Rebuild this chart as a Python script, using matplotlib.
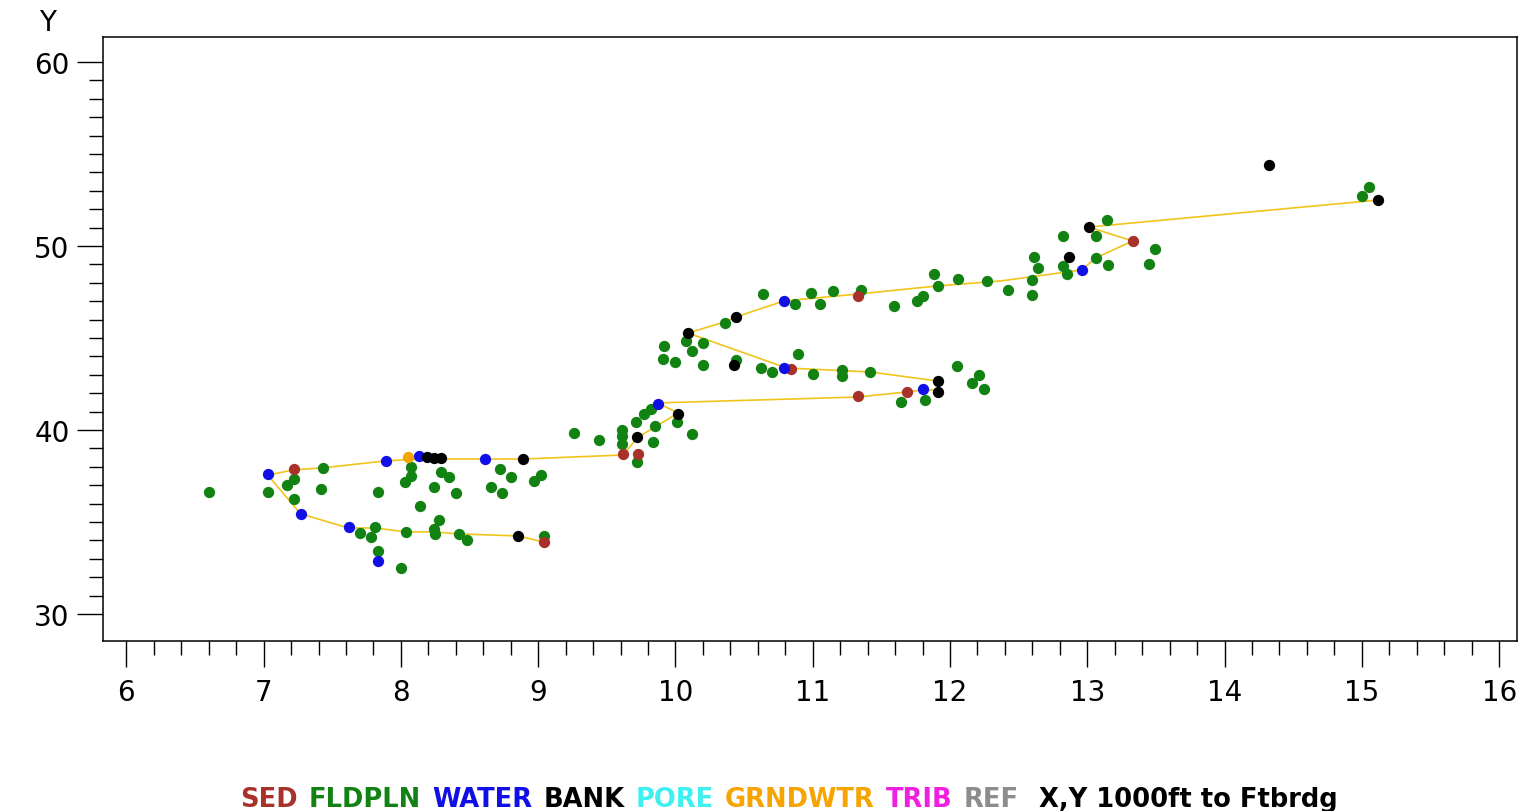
import numpy as np
import matplotlib
matplotlib.use("Agg")
import matplotlib.pyplot as plt
from matplotlib.ticker import FixedLocator

plt.rcParams['font.family'] = ['DejaVu Sans']

# sample locations, X,Y in 1000 ft to Ftbrdg
sed_x = [7.22, 9.04, 9.62, 9.73, 10.84, 11.33, 11.33, 11.69, 13.33]
sed_y = [37.88, 33.91, 38.70, 38.70, 43.32, 47.28, 41.85, 42.07, 50.27]

fldpln_x = [6.60, 7.03, 7.17, 7.22, 7.22, 7.42, 7.43, 7.70, 7.81, 7.78, 7.83, 7.83, 8.00,
            8.03, 8.07, 8.07, 8.14, 8.24, 8.29, 8.35, 8.28, 8.04, 8.24, 8.25, 8.42, 8.48,
            8.40, 8.66, 8.72, 8.74, 8.80, 8.97, 9.02, 9.04, 9.26, 9.44, 9.61, 9.61, 9.61,
            9.72, 9.71, 9.77, 9.82, 9.85, 9.84, 10.01, 10.12, 9.91, 9.92, 10.00, 10.08,
            10.12, 10.20, 10.20, 10.36, 10.44, 10.62, 10.64, 10.70, 10.89, 10.87, 10.99,
            11.00, 11.05, 11.15, 11.21, 11.21, 11.35, 11.42, 11.59, 11.64, 11.76, 11.80,
            11.82, 11.88, 11.91, 12.06, 12.05, 12.21, 12.16, 12.25, 12.27, 12.42, 12.60,
            12.60, 12.61, 12.64, 12.82, 12.85, 12.82, 13.06, 13.14, 13.06, 13.15, 13.45,
            13.49, 15.00, 15.05]
fldpln_y = [36.63, 36.63, 37.01, 37.34, 36.25, 36.79, 37.94, 34.40, 34.73, 34.18, 33.42, 36.63, 32.50,
            37.17, 37.99, 37.50, 35.87, 36.90, 37.72, 37.45, 35.11, 34.46, 34.62, 34.35, 34.35, 34.02,
            36.58, 36.90, 37.88, 36.58, 37.45, 37.23, 37.55, 34.24, 39.84, 39.46, 40.00, 39.67, 39.24,
            38.26, 40.44, 40.87, 41.14, 40.22, 39.35, 40.44, 39.78, 43.86, 44.57, 43.70, 44.84,
            44.29, 44.73, 43.53, 45.82, 43.80, 43.37, 47.39, 43.15, 44.13, 46.85, 47.45,
            43.04, 46.85, 47.56, 43.26, 42.94, 47.61, 43.15, 46.74, 41.52, 47.01, 47.28,
            41.63, 48.48, 47.83, 48.21, 43.48, 42.99, 42.55, 42.23, 48.10, 47.61, 48.15,
            47.34, 49.40, 48.81, 48.91, 48.48, 50.54, 50.54, 51.41, 49.35, 48.97, 49.02,
            49.84, 52.72, 53.21]

water_x = [7.03, 7.27, 7.62, 7.83, 7.89, 8.13, 8.61, 9.87, 10.79, 10.79, 11.80, 12.96]
water_y = [37.61, 35.44, 34.73, 32.88, 38.32, 38.59, 38.42, 41.41, 47.01, 43.37, 42.23, 48.70]

bank_x = [8.19, 8.24, 8.29, 8.89, 8.85, 9.72, 10.02, 10.09, 10.44, 10.43, 11.91, 11.91,
          12.87, 13.01, 14.32, 15.12]
bank_y = [38.53, 38.48, 38.48, 38.42, 34.24, 39.62, 40.87, 45.27, 46.14, 43.53, 42.66, 42.07,
          49.40, 51.03, 54.40, 52.50]

grndwtr_x = [8.05]
grndwtr_y = [38.53]

# sampling route
route_x = [15.12, 13.01, 13.33, 13.06, 12.96, 12.37, 11.91, 11.33, 10.79, 10.44, 10.36, 10.09,
           10.81, 11.42, 11.91, 11.91, 11.80, 11.69, 11.33, 9.87, 10.02, 9.85, 9.72, 9.62,
           8.89, 8.61, 8.14, 7.89, 7.43, 7.22, 7.03, 7.27, 7.62, 7.81, 8.04, 8.24, 8.42,
           8.85, 9.04]
route_y = [52.50, 51.03, 50.27, 49.35, 48.70, 48.10, 47.83, 47.39, 47.01, 46.14, 45.87, 45.27,
           43.37, 43.15, 42.66, 42.17, 42.17, 42.07, 41.79, 41.47, 40.92, 40.16, 39.57, 38.64,
           38.42, 38.42, 38.42, 38.32, 37.94, 37.83, 37.55, 35.44, 34.67, 34.67, 34.46, 34.46,
           34.35, 34.24, 33.91]

legend_words = ['SED', 'FLDPLN', 'WATER', 'BANK', 'PORE', 'GRNDWTR', 'TRIB', 'REF',
                ' X,Y 1000ft to Ftbrdg']
legend_colors = ['#a8322a', '#128212', '#1010e6', 'black', '#40f0f0', '#f5a400',
                 '#f020e0', '#8c8c8c', 'black']

fig = plt.figure(figsize=(15.28, 8.12), dpi=100)
ax = fig.add_axes([0.0674, 0.2094, 0.9254, 0.7438])

ax.plot(route_x, route_y, color='#f0c419', lw=1.2, zorder=2)
ms = 66
ax.scatter(fldpln_x, fldpln_y, s=ms, color='#128212', zorder=3, linewidths=0)
ax.scatter(sed_x, sed_y, s=ms, color='#a8322a', zorder=3, linewidths=0)
ax.scatter(water_x, water_y, s=ms, color='#1010e6', zorder=3, linewidths=0)
ax.scatter(bank_x, bank_y, s=ms, color='black', zorder=3, linewidths=0)
ax.scatter(grndwtr_x, grndwtr_y, s=ms, color='#f5a400', zorder=3, linewidths=0)

ax.set_xlim(5.83, 16.13)
ax.set_ylim(28.53, 61.36)
ax.set_xticks(range(6, 17))
ax.set_yticks([30, 40, 50, 60])
ax.xaxis.set_minor_locator(FixedLocator(np.arange(6, 16.01, 0.2)))
ax.yaxis.set_minor_locator(FixedLocator(np.arange(30, 60.5, 1)))
ax.tick_params(which='major', direction='out', length=19, width=1, labelsize=20, pad=8)
ax.tick_params(which='minor', direction='out', length=10, width=1)
ax.tick_params(axis='y', which='major', pad=5)
for s in ax.spines.values():
    s.set_linewidth(1.1)

fig.text(0.031, 0.972, 'Y', fontsize=20, ha='center', va='center')

# coloured legend line under the chart, words chained left to right
prev = fig.text(0.157, 0.0148, legend_words[0], color=legend_colors[0],
                fontsize=18.5, fontweight='bold', va='center')
for w, c in zip(legend_words[1:], legend_colors[1:]):
    prev = ax.annotate(w, xy=(1, 0.5), xycoords=prev, xytext=(8, 0),
                       textcoords='offset points', color=c, fontsize=18.5,
                       fontweight='bold', va='center', ha='left',
                       annotation_clip=False)

fig.savefig('out.png', dpi=100)
